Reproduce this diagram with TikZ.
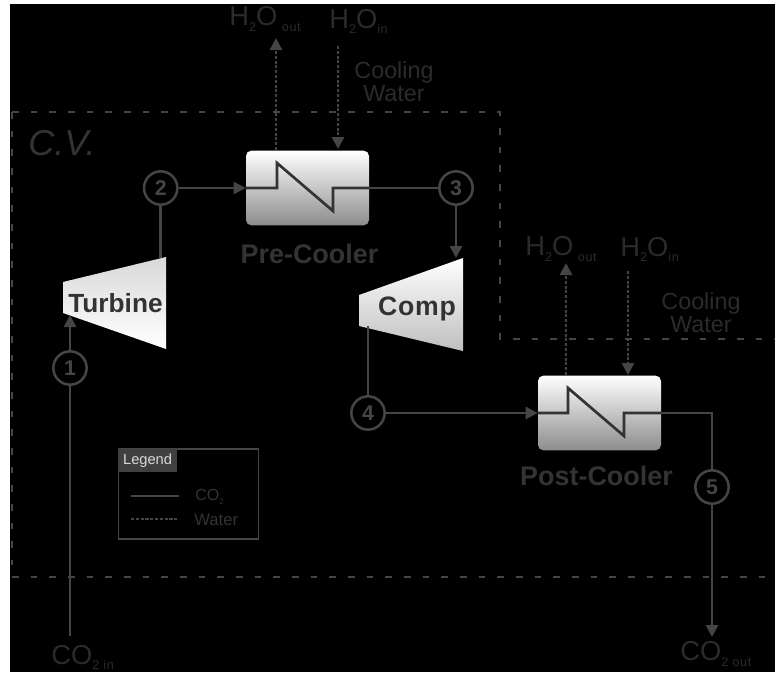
\documentclass[tikz,border=0pt]{standalone}
\usepackage{fontspec}
\setmainfont{Liberation Sans}
\usetikzlibrary{arrows.meta}
\definecolor{ln}{gray}{0.27}
\definecolor{tx}{gray}{0.2}
\definecolor{dim}{gray}{0.17}
\tikzset{
 x=0.75pt,y=-0.75pt,
 co/.style={draw=ln,line width=1.9pt},
 coa/.style={co,-{Triangle[length=9pt,width=9pt]}},
 wa/.style={draw=ln,line width=2.1pt,dash pattern=on 2.2pt off 1.4pt},
 waa/.style={wa,-{Triangle[length=9pt,width=9pt]}},
 cv/.style={draw=ln,line width=1.5pt,dash pattern=on 5pt off 9pt},
 hx/.style={draw=none,rounded corners=4pt,top color=white,bottom color=gray!90!white,minimum width=92.25pt,minimum height=56pt,inner sep=0pt},
 st/.style={circle,draw=ln,line width=1.9pt,inner sep=0pt,minimum size=25pt,text=ln,font=\bfseries\fontsize{16}{16}\selectfont},
 lab/.style={text=dim,inner sep=0pt,font=\fontsize{17.5}{17.25}\selectfont,align=center},
 big/.style={text=tx,inner sep=0pt,font=\bfseries\fontsize{20.2}{20}\selectfont},
 chem/.style={text=dim,inner sep=0pt,font=\fontsize{20.5}{20}\selectfont},
 tlab/.style={text=tx,inner sep=0pt,font=\bfseries\fontsize{19.7}{20}\selectfont},
 zig/.style={draw=black!80,line width=2pt},
}
\newcommand{\subs}[1]{\raisebox{-0.35ex}{\fontsize{9.5}{10}\selectfont\addfontfeature{LetterSpace=5} #1}}
\begin{document}
\begin{tikzpicture}
\useasboundingbox (0,0) rectangle (775,672);
\fill[black] (0,0) rectangle (775,672);
\fill[white] (0,0) rectangle (775,4);
\fill[white] (0,0) rectangle (10,672);
% control volume
\draw[cv] (12,112)--(500,112)--(500,339)--(775,339);
\draw[cv] (12,576.5)--(775,576.5);
\draw[cv] (12,112)--(12,565);
% heat exchangers
\node[hx] (pre) at (307.5,188) {};
\node[hx] (post) at (599.5,413) {};
% turbines
\fill[top color=gray!30,bottom color=white] (166,257)--(166,349)--(63,313)--(63,282)--cycle;
\fill[top color=white,bottom color=gray!50] (463,258)--(463,351)--(359,326)--(359,295)--cycle;
\coordinate (tin) at (70,315);
\coordinate (tout) at (160.7,258);
\coordinate (cin) at (456,258);
\coordinate (cout) at (368,326);
\node[tlab] (tl) at (115.5,303) {Turbine};
\node[tlab,font=\bfseries\fontsize{20}{20}\selectfont\addfontfeature{LetterSpace=3}] (cl) at (417,309) {Comp};
% state points
\node[st] (s1) at (70,368) {1};
\node[st] (s2) at (160.7,188) {2};
\node[st] (s3) at (456,188) {3};
\node[st] (s4) at (368,413) {4};
\node[st] (s5) at (712,487) {5};
% zigzags
\draw[zig] (pre.west)--(277,188)--(277,163)--(333,211)--(333,188)--(pre.east);
\draw[zig] (post.west)--(568,413)--(568,388)--(624,436)--(624,413)--(post.east);
% connectors
\coordinate (co1) at (70,636);
\coordinate (co5) at (712,637);
\draw[co] (co1)--(s1);
\draw[coa] (s1)--(tin);
\draw[co] (tout)--(s2);
\draw[coa] (s2)--(pre.west);
\draw[co] (pre.east)--(s3);
\draw[coa] (s3)--(cin);
\draw[co] (cout)--(s4);
\draw[coa] (s4)--(post.west);
\draw[co] (post.east)-|(s5);
\draw[coa] (s5)--(co5);
% water
\coordinate (w1) at (276,38);
\coordinate (w2) at (338,46);
\coordinate (w3) at (566,263);
\coordinate (w4) at (628,271);
\draw[waa] (276,150)--(w1);
\draw[waa] (w2)--(338,149);
\draw[waa] (566,375)--(w3);
\draw[waa] (w4)--(628,375);
% labels
\node[chem,anchor=west] (a1) at (229,19) {H\subs{2}O\,\subs{out}};
\node[chem,anchor=west] (a2) at (329,21) {H\subs{2}O\subs{in}};
\node[chem,anchor=west] (a3) at (525,249) {H\subs{2}O\,\subs{out}};
\node[chem,anchor=west] (a4) at (620,249) {H\subs{2}O\subs{in}};
\node[chem,anchor=west] (a5) at (51,657) {CO\subs{2 in}};
\node[chem,anchor=west] (a6) at (680,654) {CO\subs{2 out}};
\node[lab] (cw1) at (394,82) {Cooling\\Water};
\node[lab] (cw2) at (701,313) {Cooling\\Water};
\node[big] (n1) at (309.5,254) {Pre-Cooler};
\node[big] (n2) at (596.5,476) {Post-Cooler};
\node[text=tx,inner sep=0pt,font=\itshape\fontsize{27}{27}\selectfont] (n3) at (62,143) {C.V.};
% legend
\node[draw=ln,line width=0.9pt,minimum width=105.5pt,minimum height=67.5pt,inner sep=0pt] (leg) at (188.5,494) {};
\node[fill=black!75,text=white!85!black,anchor=north west,inner sep=0pt,minimum width=44pt,minimum height=17pt,font=\fontsize{11}{11}\selectfont] (lt) at (118,449) {Legend};
\coordinate (l1) at (131,496); \coordinate (l2) at (179,496);
\coordinate (l3) at (131,519); \coordinate (l4) at (179,519);
\draw[draw=ln,line width=1.3pt] (l1)--(l2);
\draw[draw=ln,line width=1.3pt,dash pattern=on 2.4pt off 1.2pt] (l3)--(l4);
\node[text=tx,anchor=west,inner sep=0pt,font=\fontsize{12}{12}\selectfont] (c1) at (195,497) {CO\raisebox{-0.4ex}{\fontsize{6}{6}\selectfont 2}};
\node[text=tx,anchor=west,inner sep=0pt,font=\fontsize{12.5}{13}\selectfont] (c2) at (194,520) {Water};
\end{tikzpicture}
\end{document}
